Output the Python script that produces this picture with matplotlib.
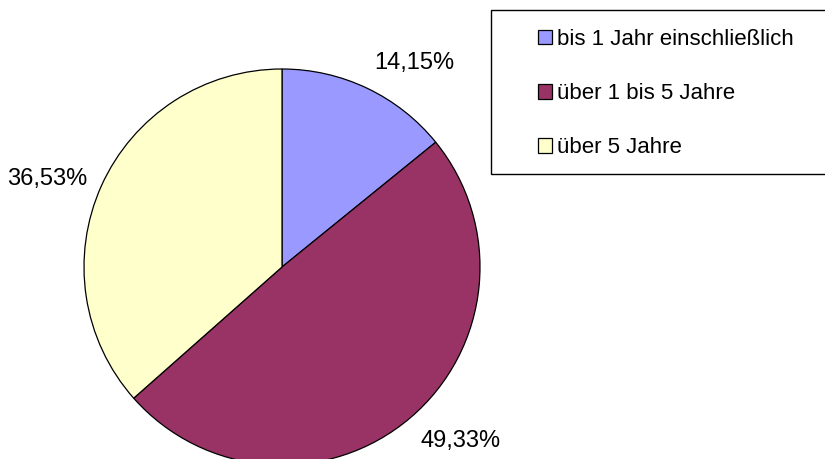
import matplotlib.pyplot as plt
from matplotlib.patches import Rectangle

plt.rcParams['font.family'] = ['Liberation Sans', 'DejaVu Sans']

# data
categories = ['bis 1 Jahr einschließlich', 'über 1 bis 5 Jahre', 'über 5 Jahre']
shares = [14.15, 49.33, 36.53]
pct_labels = ['14,15%', '49,33%', '36,53%']
colors = ['#9999FF', '#993366', '#FFFFCC']

W, H = 825, 459
fig = plt.figure(figsize=(W / 100, H / 100), dpi=100)

# pie centre at (282, 267) px, radius 198 px
cx, cy, r = 282, 267, 198
ax = fig.add_axes([(cx - r) / W, (H - cy - r) / H, 2 * r / W, 2 * r / H])

wedges, texts = ax.pie(shares, labels=pct_labels, colors=colors,
                       startangle=90, counterclock=False,
                       labeldistance=1.08,
                       wedgeprops={'edgecolor': 'black', 'linewidth': 0.9},
                       textprops={'fontsize': 17})
# excel-like anchoring: labels above/below the pie sit on their edge
for w, t in zip(wedges, texts):
    mid = (w.theta1 + w.theta2) / 2 % 360
    if 45 < mid < 135:
        t.set_verticalalignment('bottom')
    elif 225 < mid < 315:
        t.set_verticalalignment('top')
    else:
        t.set_verticalalignment('center')
ax.set_xlim(-1, 1)
ax.set_ylim(-1, 1)
ax.set_aspect('equal')
ax.axis('off')
for w in wedges:
    w.set_clip_on(False)

# legend frame
fig.patches.append(Rectangle((491 / W, 1 - 174 / H), (W + 5 - 491) / W, (174 - 10) / H,
                             transform=fig.transFigure, facecolor='white',
                             edgecolor='black', linewidth=1.0, zorder=0))

leg = fig.legend(wedges, categories, loc='upper left',
                 bbox_to_anchor=(538 / W, 1 - 29 / H), frameon=False,
                 fontsize=16, handlelength=0.63, handleheight=0.63,
                 handletextpad=0.22, labelspacing=1.49, borderpad=0,
                 borderaxespad=0)

fig.savefig('out.png', dpi=100)
